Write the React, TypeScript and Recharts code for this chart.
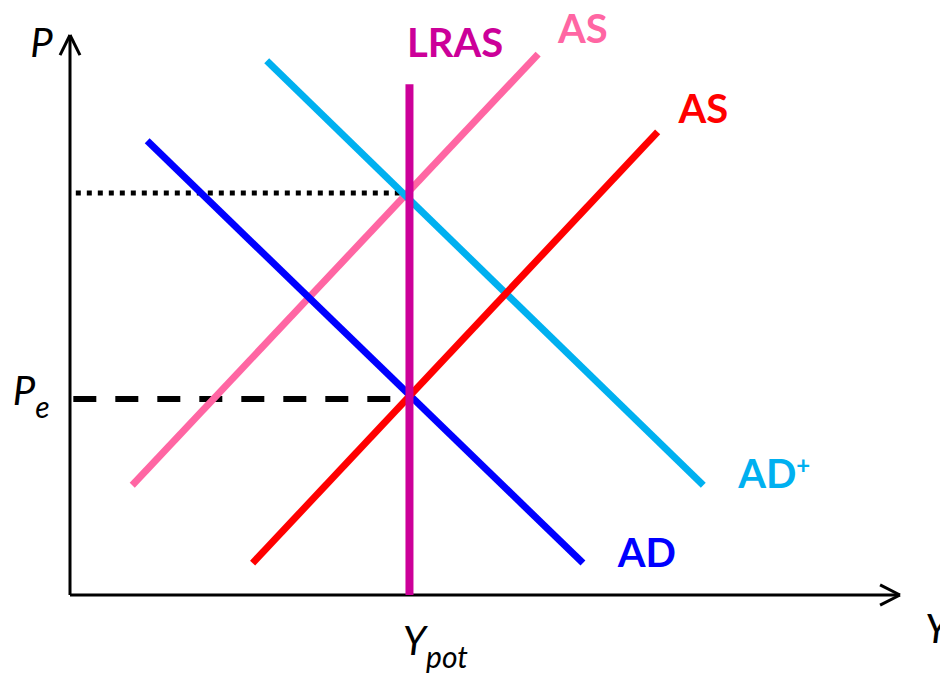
import React from 'react';
import { LineChart, Line, XAxis, YAxis, ReferenceLine, ReferenceDot } from 'recharts';

// output (q) and price level (p), both on a 0-100 scale
const adCurve = [
  { q: 9.3, p: 81.1 },
  { q: 61.8, p: 5.7 },
];
const adPlusCurve = [
  { q: 23.7, p: 95.4 },
  { q: 76.3, p: 19.6 },
];
const asCurve = [
  { q: 22.0, p: 5.7 },
  { q: 70.8, p: 82.7 },
];
const asShiftedCurve = [
  { q: 7.5, p: 19.6 },
  { q: 56.4, p: 96.6 },
];

const yPot = 40.9;
const lrasTop = 91.2;
const priceEq = 35.0;
const priceHigh = 71.8;

const FONT = 'Lato, Calibri, "Open Sans", sans-serif';

const W = 940;
const H = 674;

type TxtProps = {
  main: string;
  sub?: string;
  sup?: string;
  fill: string;
  italic?: boolean;
  bold?: boolean;
  size?: number;
};

function txtLabel({ main, sub, sup, fill, italic, bold, size = 40 }: TxtProps) {
  return (props: any) => {
    const vb = props.viewBox || {};
    const x = vb.x + (vb.width || 0) / 2;
    const y = vb.y + (vb.height || 0) / 2;
    return (
      <text
        x={x}
        y={y}
        fill={fill}
        fontFamily={FONT}
        fontSize={size}
        fontStyle={italic ? 'italic' : 'normal'}
        fontWeight={bold ? 700 : 400}
        textAnchor="start"
      >
        <tspan>{main}</tspan>
        {sub && (
          <tspan fontSize={size * 0.75} dy={size * 0.32}>
            {sub}
          </tspan>
        )}
        {sup && (
          <tspan fontSize={size * 0.6} dy={-size * 0.35}>
            {sup}
          </tspan>
        )}
      </text>
    );
  };
}

export default function App() {
  return (
    <div style={{ position: 'absolute', left: 0, top: 0, width: W, height: H, background: '#fff' }}>
      <LineChart width={W} height={H} margin={{ top: 35, right: 40, bottom: 79, left: 70 }}>
        <XAxis dataKey="q" type="number" domain={[0, 100]} hide allowDataOverflow />
        <YAxis dataKey="p" type="number" domain={[0, 100]} hide allowDataOverflow />

        {/* axes with arrow heads */}
        <ReferenceLine segment={[{ x: 0, y: 0 }, { x: 100, y: 0 }]} stroke="#000" strokeWidth={3} ifOverflow="visible" />
        <ReferenceLine segment={[{ x: 0, y: 0 }, { x: 0, y: 100 }]} stroke="#000" strokeWidth={3} ifOverflow="visible" />
        <ReferenceLine segment={[{ x: 97.6, y: 1.8 }, { x: 100, y: 0 }]} stroke="#000" strokeWidth={3} ifOverflow="visible" />
        <ReferenceLine segment={[{ x: 97.6, y: -1.8 }, { x: 100, y: 0 }]} stroke="#000" strokeWidth={3} ifOverflow="visible" />
        <ReferenceLine segment={[{ x: -1.2, y: 96.4 }, { x: 0, y: 100 }]} stroke="#000" strokeWidth={3} ifOverflow="visible" />
        <ReferenceLine segment={[{ x: 1.2, y: 96.4 }, { x: 0, y: 100 }]} stroke="#000" strokeWidth={3} ifOverflow="visible" />

        {/* guide lines */}
        <ReferenceLine
          segment={[{ x: 0.7, y: priceHigh }, { x: yPot, y: priceHigh }]}
          stroke="#000"
          strokeWidth={5}
          strokeDasharray="5 6"
          ifOverflow="visible"
        />
        <ReferenceLine
          segment={[{ x: 0.4, y: priceEq }, { x: yPot - 1.5, y: priceEq }]}
          stroke="#000"
          strokeWidth={6}
          strokeDasharray="23 19"
          ifOverflow="visible"
        />

        <Line data={asShiftedCurve} dataKey="p" stroke="#FF66A3" strokeWidth={7} dot={false} activeDot={false} type="linear" isAnimationActive={false} />
        <Line data={adPlusCurve} dataKey="p" stroke="#00B0F0" strokeWidth={7} dot={false} activeDot={false} type="linear" isAnimationActive={false} />
        <Line data={adCurve} dataKey="p" stroke="#0000FF" strokeWidth={7} dot={false} activeDot={false} type="linear" isAnimationActive={false} />
        <Line data={asCurve} dataKey="p" stroke="#FF0000" strokeWidth={7} dot={false} activeDot={false} type="linear" isAnimationActive={false} />

        <ReferenceLine segment={[{ x: yPot, y: 0 }, { x: yPot, y: lrasTop }]} stroke="#CC0099" strokeWidth={8} ifOverflow="visible" />

        {/* labels */}
        <ReferenceDot x={40.6} y={96.1} r={0} fill="none" stroke="none" ifOverflow="visible"
          label={txtLabel({ main: 'LRAS', fill: '#CC0099', bold: true })} />
        <ReferenceDot x={58.8} y={98.6} r={0} fill="none" stroke="none" ifOverflow="visible"
          label={txtLabel({ main: 'AS', fill: '#FF66A3', bold: true })} />
        <ReferenceDot x={73.3} y={84.3} r={0} fill="none" stroke="none" ifOverflow="visible"
          label={txtLabel({ main: 'AS', fill: '#FF0000', bold: true })} />
        <ReferenceDot x={80.5} y={19.1} r={0} fill="none" stroke="none" ifOverflow="visible"
          label={txtLabel({ main: 'AD', sup: '+', fill: '#00B0F0', bold: true })} />
        <ReferenceDot x={66.0} y={5.0} r={0} fill="none" stroke="none" ifOverflow="visible"
          label={txtLabel({ main: 'AD', fill: '#0000FF', bold: true })} />
        <ReferenceDot x={-4.8} y={96.1} r={0} fill="none" stroke="none" ifOverflow="visible"
          label={txtLabel({ main: 'P', fill: '#000', italic: true })} />
        <ReferenceDot x={-6.9} y={33.9} r={0} fill="none" stroke="none" ifOverflow="visible"
          label={txtLabel({ main: 'P', sub: 'e', fill: '#000', italic: true })} />
        <ReferenceDot x={40.1} y={-10.7} r={0} fill="none" stroke="none" ifOverflow="visible"
          label={txtLabel({ main: 'Y', sub: 'pot', fill: '#000', italic: true })} />
        <ReferenceDot x={103} y={-8.6} r={0} fill="none" stroke="none" ifOverflow="visible"
          label={txtLabel({ main: 'Y', fill: '#000', italic: true })} />
      </LineChart>
    </div>
  );
}
